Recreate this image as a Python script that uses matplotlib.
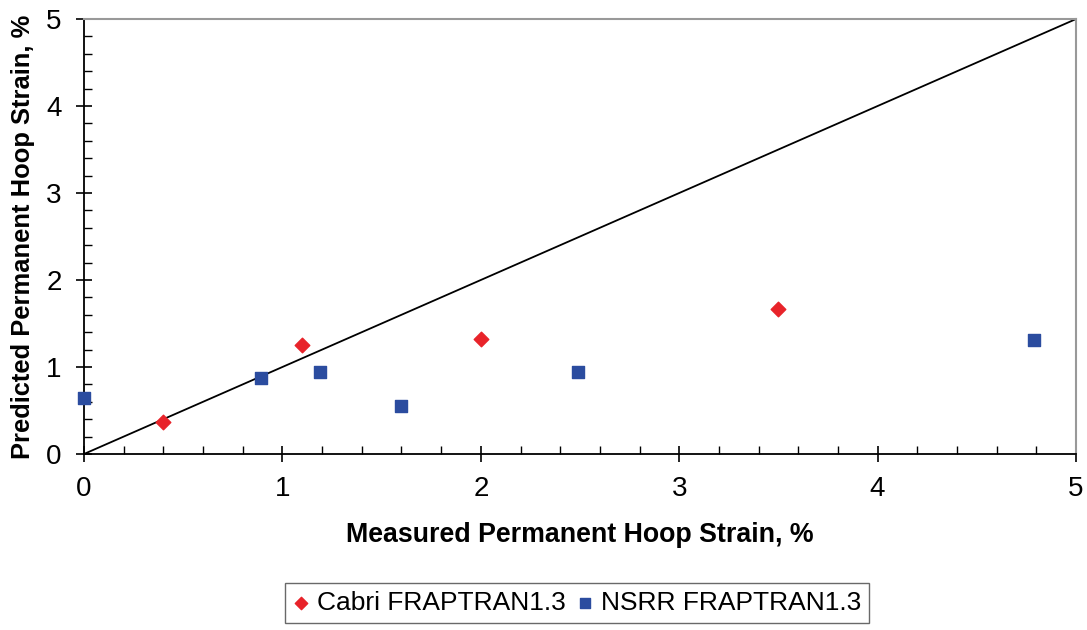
import matplotlib
matplotlib.use("Agg")
import matplotlib.pyplot as plt
from matplotlib.ticker import MultipleLocator

cabri_x = [0.40, 1.10, 2.00, 3.50]
cabri_y = [0.37, 1.25, 1.32, 1.67]
nsrr_x = [0.00, 0.89, 1.19, 1.60, 2.49, 4.79]
nsrr_y = [0.64, 0.87, 0.94, 0.55, 0.94, 1.31]

plt.rcParams["font.family"] = ["Liberation Sans", "DejaVu Sans"]

fig = plt.figure(figsize=(10.87, 6.3), dpi=100)
ax = fig.add_axes([0.0773, 0.2794, 0.9126, 0.6904])

ax.plot([0, 5], [0, 5], color="black", linewidth=1.3, zorder=2)
ax.scatter(cabri_x, cabri_y, marker="D", s=55, color="#E8232A",
           label="Cabri FRAPTRAN1.3", zorder=3, clip_on=False)
ax.scatter(nsrr_x, nsrr_y, marker="s", s=80, color="#2B4C9F",
           label="NSRR FRAPTRAN1.3", zorder=3, clip_on=False)

ax.set_xlim(0, 5)
ax.set_ylim(0, 5)
ax.xaxis.set_major_locator(MultipleLocator(1))
ax.yaxis.set_major_locator(MultipleLocator(1))
ax.xaxis.set_minor_locator(MultipleLocator(0.2))
ax.yaxis.set_minor_locator(MultipleLocator(0.2))
ax.tick_params(which="major", direction="inout", length=12, width=1.2,
               labelsize=20, pad=10)
ax.tick_params(which="minor", direction="in", length=6, width=1.0)
for side in ["top", "right"]:
    ax.spines[side].set_color("#999999")
    ax.spines[side].set_linewidth(1.5)
for side in ["left", "bottom"]:
    ax.spines[side].set_linewidth(1.3)

ax.set_xlabel("Measured Permanent Hoop Strain, %", fontsize=19.3,
              fontweight="bold", labelpad=14)
ax.set_ylabel("Predicted Permanent Hoop Strain, %", fontsize=18.4,
              fontweight="bold", labelpad=8)

leg = fig.legend(loc="upper center", bbox_to_anchor=(0.5309, 0.0714), ncol=2,
                 fontsize=19, frameon=True, fancybox=False, handletextpad=0.3,
                 columnspacing=0.45, borderpad=0.3, borderaxespad=0,
                 markerscale=0.85, handlelength=0.6)
leg.get_frame().set_edgecolor("#444444")
leg.get_frame().set_linewidth(1.0)
leg.set_bbox_to_anchor((0.5309, 0.0714 + 0.3 * 19 / 72 * 100 / 630 * 0.2))

fig.savefig("out.png", dpi=100)
